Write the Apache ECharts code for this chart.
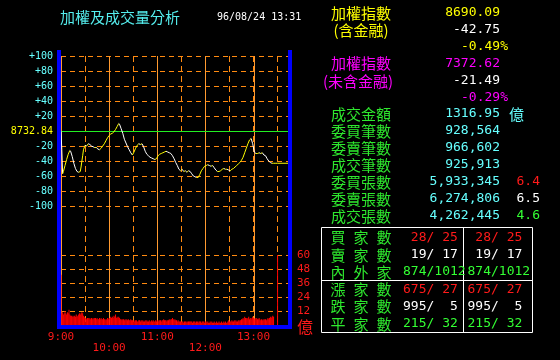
<!DOCTYPE html>
<html><head><meta charset="utf-8">
<script src="https://cdn.jsdelivr.net/npm/echarts@6/dist/echarts.min.js"></script>
<style>html,body{margin:0;padding:0;background:#000}#c{width:560px;height:360px}</style>
</head><body><div id="c"></div>
<script>
// ---- data ----
const titleText = '加權及成交量分析';
const dateText = '96/08/24 13:31';
const prevClose = '8732.84';
const hourLabels = ['9:00', '10:00', '11:00', '12:00', '13:00'];
const hourMinutes = [0, 60, 120, 180, 240];
// index change vs. previous close, [minute from 9:00, points]
const indexLine = [[0,0],[1,-25],[2,-57],[3,-54],[5,-46],[7,-38],[9,-31],[11,-26],[12,-27],[14,-34],[16,-43],[18,-50],[20,-54],[22,-55],[24,-54],[25,-48],[27,-33],[28,-25],[30,-19],[32,-20],[34,-17],[36,-18],[38,-20],[40,-21],[42,-22],[44,-22],[46,-24],[48,-25],[50,-23],[52,-20],[54,-17],[56,-13],[58,-9],[60,-6],[62,-4],[64,-3],[66,-1],[68,2],[70,6],[72,10],[73,9],[75,3],[77,-3],[79,-11],[81,-16],[83,-21],[85,-25],[87,-29],[89,-32],[91,-28],[93,-23],[95,-19],[97,-17],[99,-18],[101,-17],[103,-21],[105,-27],[107,-31],[109,-33],[111,-35],[113,-36],[115,-37],[117,-38],[119,-37],[121,-33],[123,-31],[125,-30],[127,-29],[129,-28],[131,-27],[133,-28],[135,-29],[137,-30],[139,-33],[141,-37],[143,-42],[145,-46],[147,-51],[149,-53],[151,-51],[153,-54],[155,-53],[157,-55],[159,-53],[161,-54],[163,-57],[165,-60],[167,-61],[169,-62],[171,-62],[173,-58],[175,-53],[177,-50],[179,-47],[181,-46],[183,-45],[185,-46],[187,-47],[189,-46],[191,-49],[193,-52],[195,-54],[197,-54],[199,-53],[201,-51],[203,-50],[205,-51],[207,-51],[209,-52],[211,-53],[213,-51],[215,-50],[217,-48],[219,-46],[221,-44],[223,-42],[225,-39],[227,-35],[229,-29],[231,-23],[233,-17],[235,-12],[237,-10],[239,-17],[241,-28],[243,-30],[245,-30],[247,-29],[249,-30],[251,-29],[253,-32],[255,-33],[257,-37],[259,-40],[261,-42],[263,-43],[265,-43],[267,-43],[270,-43],[283,-43]];
// per-minute traded value (億), minute 0 .. 265
const volume = [43,
10,11,9,10,12,10,9,11,10,13,
9,8,8,7,8,7,8,7,9,7,
8,9,10,9,10,11,10,8,7,6,
6,5,6,6,5,6,5,6,5,6,
5,6,6,5,6,5,5,6,5,6,
5,5,6,5,5,4,5,6,5,6,
6,7,6,7,6,8,7,9,6,7,
6,7,6,5,5,4,5,5,4,5,
4,5,4,5,4,4,5,4,4,4,
4,3,4,4,3,3,4,4,3,4,
3,4,3,3,4,3,4,3,3,4,
3,3,4,3,4,3,3,4,3,4,
4,3,4,4,3,4,4,5,4,4,
4,3,4,4,5,4,5,5,6,5,
4,5,4,4,3,4,3,3,3,3,
3,3,2,3,3,3,2,3,3,3,
3,3,3,2,3,3,3,2,3,3,
2,3,3,3,2,3,3,3,2,3,
3,2,3,2,2,3,2,3,2,2,
3,2,2,3,2,2,3,2,2,3,
2,2,3,2,3,2,2,3,4,3,
3,3,4,3,3,4,3,4,3,3,
4,3,4,4,5,5,6,5,7,6,
6,5,6,7,5,6,5,6,7,6,
5,6,5,6,5,5,6,5,4,5,
4,5,4,5,5,4,5,6,5,6,
7,6,7,8,7];
const closingVolume = [270, 60];
const indexLabels = ['加權指數', '(含金融)', '加權指數', '(未含金融)'];
const taiex = ['8690.09', '-42.75', '-0.49%'];
const taiexExFin = ['7372.62', '-21.49', '-0.29%'];
const statLabels = ['成交金額', '委買筆數', '委賣筆數', '成交筆數', '委買張數', '委賣張數', '成交張數'];
const statValues = ['1316.95', '928,564', '966,602', '925,913', '5,933,345', '6,274,806', '4,262,445'];
const amountUnit = '億';
const ratios = ['6.4', '6.5', '4.6'];
const tableLabels = ['買家數', '賣家數', '內外家', '漲家數', '跌家數', '平家數'];
const tableCol1 = [[28,25],[19,17],[874,1012],[675,27],[995,5],[215,32]];
const tableCol2 = [[28,25],[19,17],[874,1012],[675,27],[995,5],[215,32]];

// ---- styles ----
const C = { cyan:'#66ffff', title:'#55eeee', yellow:'#ffff00', magenta:'#ff00ff', green:'#2ee82e', bgreen:'#33ff33',
  red:'#ff1a1a', white:'#ffffff', orange:'#ff8a10', orange2:'#ff9a30', blue:'#0000ff', zero:'#22ee22' };
const CJK = '"Noto Sans CJK TC"';
const MONO = '"DejaVu Sans Mono"';
function T(text, x, y, color, font, align) {
  return { type:'text', z:100, x:x, y:y, silent:true,
    style:{ text:text, fill:color, font:font, textAlign:align||'left', align:align||'left',
      textVerticalAlign:'middle', verticalAlign:'middle' } };
}
const cjk15 = '15px ' + CJK, mono13 = '13px ' + MONO;
const g = [];
g.push(T(titleText, 60, 17, C.title, cjk15));
g.push(T(dateText, 217, 17, C.white, '10px ' + MONO));
g.push(T(indexLabels[0], 361, 13, C.yellow, cjk15, 'center'));
g.push(T(taiex[0], 500, 13, C.yellow, mono13, 'right'));
g.push(T(indexLabels[1], 361, 30, C.yellow, cjk15, 'center'));
g.push(T(taiex[1], 500, 30, C.white, mono13, 'right'));
g.push(T(taiex[2], 508, 47, C.yellow, mono13, 'right'));
g.push(T(indexLabels[2], 361, 63.5, C.magenta, cjk15, 'center'));
g.push(T(taiexExFin[0], 500, 63.5, C.magenta, mono13, 'right'));
g.push(T(indexLabels[3], 358, 81, C.magenta, cjk15, 'center'));
g.push(T(taiexExFin[1], 500, 81, C.white, mono13, 'right'));
g.push(T(taiexExFin[2], 508, 98, C.magenta, mono13, 'right'));
statLabels.forEach((s, i) => {
  const y = 114 + 17 * i;
  g.push(T(s, 361, y, C.green, cjk15, 'center'));
  g.push(T(statValues[i], 500, y, C.cyan, mono13, 'right'));
});
g.push(T(amountUnit, 509, 114, C.cyan, cjk15));
const ratioColors = [C.red, C.white, C.bgreen];
ratios.forEach((r, j) => g.push(T(r, 540, 114 + 17 * (4 + j), ratioColors[j], mono13, 'right')));
g.push({ type:'rect', z:100, silent:true, shape:{x:321.5, y:227.5, width:211, height:105}, style:{fill:null, stroke:'#fff', lineWidth:1} });
g.push({ type:'line', z:100, silent:true, shape:{x1:463.5, y1:227.5, x2:463.5, y2:332.5}, style:{stroke:'#fff', lineWidth:1} });
g.push({ type:'line', z:100, silent:true, shape:{x1:321.5, y1:280.5, x2:532.5, y2:280.5}, style:{stroke:'#fff', lineWidth:1} });
const rowColors = [C.red, C.white, C.bgreen, C.red, C.white, C.bgreen];
const pad3 = n => String(n).padStart(3, ' ');
const fmt = p => pad3(p[0]) + '/' + pad3(p[1]);
tableLabels.forEach((lab, i) => {
  const y = 237.5 + 17.3 * i;
  [...lab].forEach((ch, k) => g.push(T(ch, 338 + 23 * k, y, C.green, cjk15, 'center')));
  g.push(T(fmt(tableCol1[i]), 403, y, rowColors[i], mono13, 'left'));
  g.push(T(fmt(tableCol2[i]), 467.5, y, rowColors[i], mono13, 'left'));
});
g.push({ type:'rect', z:90, silent:true, shape:{x:57, y:50, width:4, height:279}, style:{fill:C.blue} });
g.push({ type:'rect', z:90, silent:true, shape:{x:288, y:50, width:4, height:279}, style:{fill:C.blue} });
g.push({ type:'rect', z:90, silent:true, shape:{x:57, y:325, width:235, height:4}, style:{fill:C.blue} });

// ---- chart ----
const XMAX = 283;
const segs = indexLine.slice(0, -1).map((p, i) => [p[0], p[1], indexLine[i + 1][0], indexLine[i + 1][1]]);
const volData = volume.map((v, i) => [i, v]).concat([closingVolume]);
function hid() { return { axisLine:{show:false}, axisTick:{show:false}, axisLabel:{show:false} }; }
const chart = echarts.init(document.getElementById('c'), null, {renderer:'canvas'});
chart.setOption({
  backgroundColor:'#000',
  animation:false,
  grid:[
    {left:61, top:56, width:227, height:269},
    {left:61, top:56, width:227, height:150},
    {left:61, top:255, width:227, height:70}
  ],
  xAxis:[
    Object.assign({gridIndex:0, type:'value', min:0, max:XMAX, interval:30,
      splitLine:{show:true, lineStyle:{color:C.orange, type:[6,4], width:1}}}, hid()),
    Object.assign({gridIndex:1, type:'value', min:0, max:XMAX, splitLine:{show:false}}, hid()),
    {gridIndex:2, type:'value', min:0, max:XMAX, interval:60, axisLine:{show:false}, axisTick:{show:false},
      splitLine:{show:false},
      axisLabel:{show:true, margin:7, color:C.red, fontFamily:MONO, fontSize:11, lineHeight:11,
        formatter:v => { const i = hourMinutes.indexOf(v); if (i < 0) return ''; return (i % 2 ? '\n' : '') + hourLabels[i]; }}}
  ],
  yAxis:[
    Object.assign({gridIndex:0, type:'value', min:0, max:1, splitLine:{show:false}}, hid()),
    {gridIndex:1, type:'value', min:-100, max:100, interval:20, axisLine:{show:false}, axisTick:{show:false},
      splitLine:{show:true, lineStyle:{color:C.orange, type:[5,4], width:1}},
      axisLabel:{margin:8, fontFamily:MONO, fontSize:10,
        color:v => (Number(v) === 0 ? C.yellow : C.cyan),
        formatter:v => v > 0 ? '+' + v : (v === 0 ? prevClose : String(v))}},
    {gridIndex:2, type:'value', position:'right', min:0, max:60, interval:12, axisLine:{show:false}, axisTick:{show:false},
      splitLine:{show:true, lineStyle:{color:C.orange, type:[5,4], width:1}},
      axisLabel:{margin:9, fontFamily:MONO, fontSize:11, color:C.red,
        formatter:v => v === 0 ? '{u|' + amountUnit + '}' : String(v),
        rich:{u:{fontFamily:CJK, fontSize:16, color:C.red, padding:[4,0,0,0]}}}}
  ],
  series:[
    // solid hour lines across the whole panel
    {type:'custom', xAxisIndex:0, yAxisIndex:0, data:hourMinutes.map(m => [m]), silent:true, z:2,
      encode:{x:0},
      renderItem:(params, api) => {
        const cs = params.coordSys;
        const x = Math.round(api.coord([api.value(0), 0])[0]) + 0.5;
        return {type:'line', shape:{x1:x, y1:cs.y, x2:x, y2:cs.y + cs.height},
          style:{stroke:C.orange2, lineWidth:1}};
      }},
    // previous close reference line
    {type:'custom', xAxisIndex:1, yAxisIndex:1, data:[[0]], silent:true, z:3,
      encode:{y:0},
      renderItem:(params, api) => {
        const cs = params.coordSys;
        const y = Math.round(api.coord([0, api.value(0)])[1]) + 0.5;
        return {type:'line', shape:{x1:cs.x, y1:y, x2:cs.x + cs.width, y2:y},
          style:{stroke:C.zero, lineWidth:1}};
      }},
    {type:'bar', xAxisIndex:2, yAxisIndex:2, data:volData, barWidth:1,
      itemStyle:{color:'#ff0000'}, silent:true, large:false},
    {type:'custom', xAxisIndex:1, yAxisIndex:1, data:segs, encode:{x:[0,2], y:[1,3]}, silent:true, z:5,
      renderItem:(params, api) => {
        const a = api.coord([api.value(0), api.value(1)]);
        const b = api.coord([api.value(2), api.value(3)]);
        const up = api.value(3) >= api.value(1);
        return {type:'line', shape:{x1:a[0], y1:a[1], x2:b[0], y2:b[1]},
          style:{stroke: up ? C.yellow : C.white, lineWidth:1}};
      }}
  ],
  graphic:g
});
</script></body></html>
